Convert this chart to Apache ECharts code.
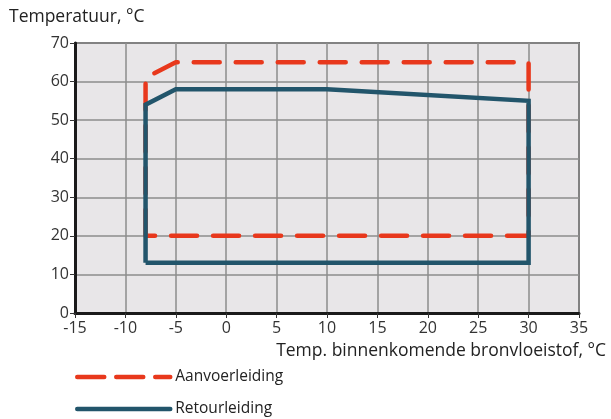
<!DOCTYPE html>
<html>
<head>
<meta charset="utf-8">
<script src="https://cdn.jsdelivr.net/npm/echarts@6/dist/echarts.min.js"></script>
<style>
  html, body { margin: 0; padding: 0; background: #fff; }
  #chart { width: 611px; height: 419px; }
</style>
</head>
<body>
<div id="chart"></div>
<script>
// outline of the working range, [bronvloeistof temp, water temp]
const aanvoer = [[-8, 20], [-8, 61], [-5, 65], [30, 65], [30, 20], [-8, 20]]
const retour = [[-8, 13], [-8, 54], [-5, 58], [10, 58], [30, 55], [30, 13], [-8, 13]]
const seriesNames = ['Aanvoerleiding', 'Retourleiding']
const yTitle = 'Temperatuur, °C'
const xTitle = 'Temp. binnenkomende bronvloeistof, °C'

const font = '"Open Sans", "Noto Sans", sans-serif'
const chart = echarts.init(document.getElementById('chart'))

// one legend per line so they stack like the original
function legendAt(name, top, dash) {
    return {
        left: 70,
        top: top,
        itemWidth: 93,
        itemHeight: 10,
        itemStyle: { opacity: 0 },
        lineStyle: { width: 4.5, cap: 'round', type: dash },
        textStyle: { color: '#222', fontSize: 15.5, fontFamily: font },
        data: [name]
    }
}

chart.setOption({
    animation: false,
    grid: {
        left: 75, right: 32, top: 43, bottom: 106,
        show: true,
        backgroundColor: '#e8e6e8',
        borderColor: '#666',
        borderWidth: 2
    },
    xAxis: {
        type: 'value',
        min: -15, max: 35, interval: 5,
        axisLine: { onZero: false, lineStyle: { color: '#1a1a1a', width: 3 } },
        axisTick: { show: true, length: 5, lineStyle: { color: '#333', width: 1 } },
        axisLabel: { color: '#333', fontSize: 16, fontFamily: font, margin: 7 },
        splitLine: { show: true, lineStyle: { color: '#8c8c8c', width: 1.5 } }
    },
    yAxis: {
        type: 'value',
        min: 0, max: 70, interval: 10,
        axisLine: { show: true, onZero: false, lineStyle: { color: '#1a1a1a', width: 3 } },
        axisTick: { show: true, length: 5, lineStyle: { color: '#333', width: 1 } },
        axisLabel: { color: '#333', fontSize: 16, fontFamily: font, margin: 6 },
        splitLine: { show: true, lineStyle: { color: '#8c8c8c', width: 1.5 } }
    },
    legend: [
        legendAt(seriesNames[0], 364, [27, 12]),
        legendAt(seriesNames[1], 396, 'solid')
    ],
    graphic: [
        {
            type: 'text', left: 9, top: 8,
            style: { text: yTitle, fill: '#222', font: '17.5px ' + font }
        },
        {
            type: 'text', right: 5, top: 342,
            style: { text: xTitle, fill: '#222', font: '17.5px ' + font }
        }
    ],
    series: [
        {
            name: seriesNames[0],
            type: 'line',
            data: aanvoer,
            symbol: 'none',
            lineStyle: { color: '#e8381c', width: 4.5, type: [26, 16], cap: 'round', join: 'round' },
            itemStyle: { color: '#e8381c' },
            z: 2
        },
        {
            name: seriesNames[1],
            type: 'line',
            data: retour,
            symbol: 'none',
            lineStyle: { color: '#22556b', width: 4.5, join: 'miter' },
            itemStyle: { color: '#22556b' },
            z: 3
        }
    ]
})
</script>
</body>
</html>
